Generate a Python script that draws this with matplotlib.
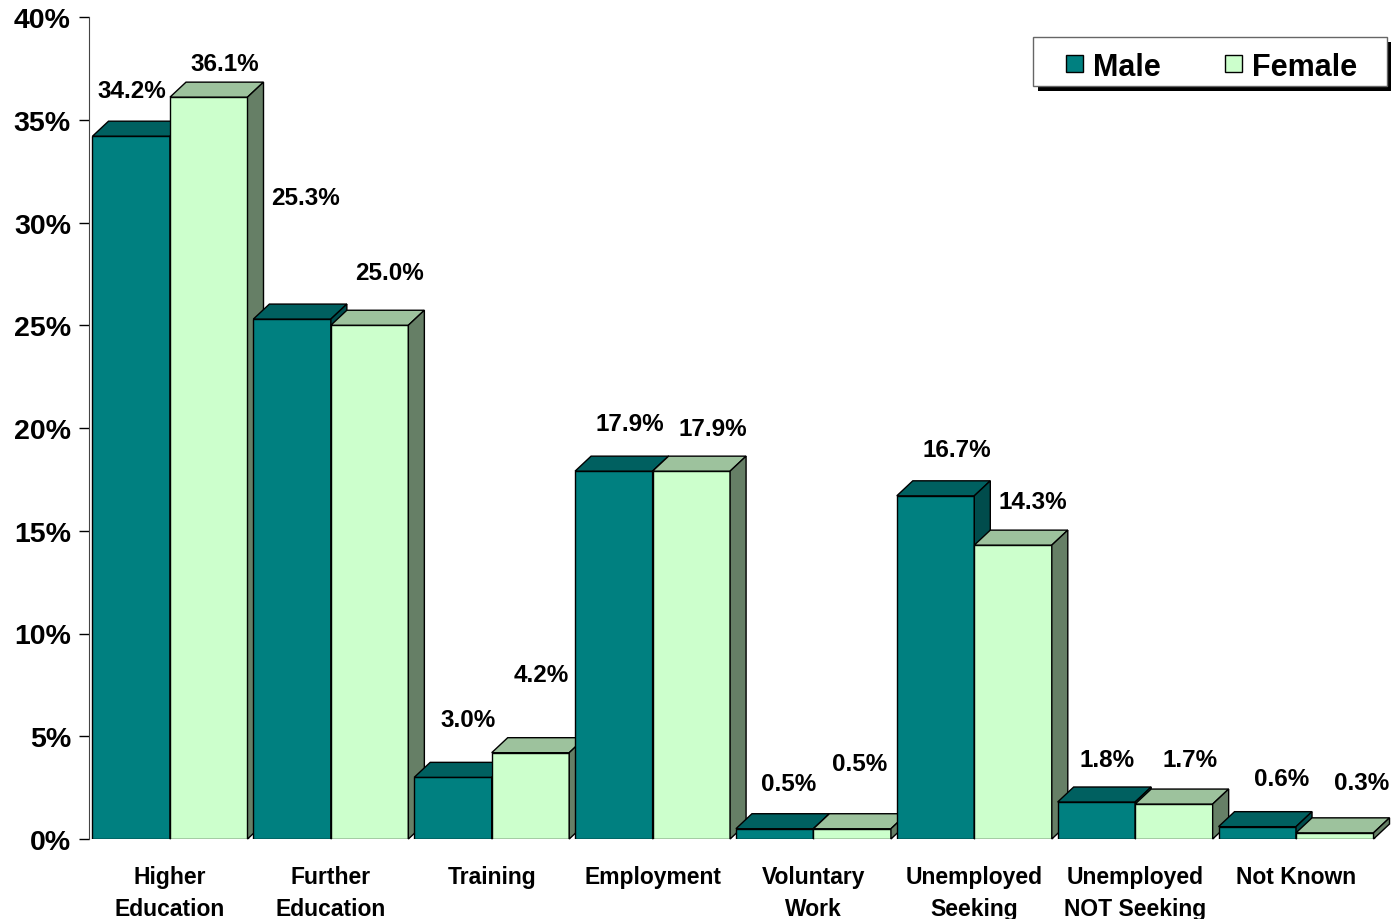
import matplotlib
matplotlib.use('Agg')
import matplotlib.pyplot as plt
from matplotlib.patches import Polygon, Rectangle
import numpy as np

categories = ['Higher\nEducation', 'Further\nEducation', 'Training', 'Employment',
              'Voluntary\nWork', 'Unemployed\nSeeking', 'Unemployed\nNOT Seeking', 'Not Known']
male = [34.2, 25.3, 3.0, 17.9, 0.5, 16.7, 1.8, 0.6]
female = [36.1, 25.0, 4.2, 17.9, 0.5, 14.3, 1.7, 0.3]
series = ['Male', 'Female']

# label nudges in pixels (dx, dy up) from front-face top centre, as in the original
male_off = [(1, 46), (13, 122), (15, 58), (16, 48), (14, 45), (21, 46), (11, 43), (24, 48)]
female_off = [(16, 34), (20, 53), (11, 78), (21, 43), (7, 65), (20, 44), (16, 45), (27, 50)]

plt.rcParams['font.family'] = ['Liberation Sans', 'DejaVu Sans']
plt.rcParams['font.weight'] = 'bold'

W, H = 1394, 920
fig = plt.figure(figsize=(W / 100, H / 100), dpi=100)
ax = fig.add_axes([89 / W, 80 / H, 1305 / W, 822 / H])

px_x = 160.86          # pixels per category
px_y = 822 / 40        # pixels per percent
w = 77.5 / px_x
dx = 16 / px_x
dy = 15 / px_y

colors = {
    'Male': ('#008080', '#006060', '#004c4c'),
    'Female': ('#ccffcc', '#9dc29d', '#667f66'),
}

x = np.arange(len(categories))
z = 2
for i in range(len(categories)):
    for name, vals, left in (('Male', male, x[i] - w), ('Female', female, x[i])):
        front, top, side = colors[name]
        v = vals[i]
        ax.bar(left, v, width=w, align='edge', color=front, edgecolor='black',
               linewidth=1, zorder=z)
        ax.add_patch(Polygon([(left, v), (left + dx, v + dy), (left + w + dx, v + dy), (left + w, v)],
                             closed=True, facecolor=top, edgecolor='black', linewidth=1,
                             zorder=z, clip_on=False))
        ax.add_patch(Polygon([(left + w, 0), (left + w + dx, dy), (left + w + dx, v + dy), (left + w, v)],
                             closed=True, facecolor=side, edgecolor='black', linewidth=1,
                             zorder=z, clip_on=False))
        z += 1

for i in range(len(categories)):
    for vals, offs, left in ((male, male_off, x[i] - w), (female, female_off, x[i])):
        ox, oy = offs[i]
        ax.annotate(f'{vals[i]:.1f}%', (left + w / 2, vals[i]),
                    xytext=(ox * 0.72, oy * 0.72), textcoords='offset points',
                    ha='center', va='center', fontsize=17.5, fontweight='bold', zorder=100)

ax.set_xlim((89 - 170) / px_x, (W - 170) / px_x)
ax.set_ylim(0, 40)
ax.set_yticks(range(0, 41, 5))
ax.set_yticklabels([f'{t}%' for t in range(0, 41, 5)], fontsize=20.5, fontweight='bold')
ax.set_xticks(x)
ax.set_xticklabels(categories, fontsize=16.5, fontweight='bold', linespacing=1.5)
ax.tick_params(axis='x', length=0, pad=18.5)
ax.tick_params(axis='y', length=7, width=1, direction='out', pad=6, colors='black')
for s in ('top', 'right', 'bottom'):
    ax.spines[s].set_visible(False)
ax.spines['left'].set_color('#444444')
ax.patch.set_visible(False)


# legend box drawn by hand to match the boxed legend with a hard drop shadow
def fx(px):
    return px / W


def fy(py):
    return 1 - py / H


fig.add_artist(Rectangle((fx(1038), fy(92)), fx(1391) - fx(1038), fy(43) - fy(92),
                         transform=fig.transFigure, facecolor='black', edgecolor='none'))
fig.add_artist(Rectangle((fx(1033), fy(87)), fx(1387) - fx(1033), fy(38) - fy(87),
                         transform=fig.transFigure, facecolor='white', edgecolor='#666666', linewidth=1))
for name, hx, tx in ((series[0], 1066, 1093), (series[1], 1225, 1252)):
    fig.add_artist(Rectangle((fx(hx), fy(73)), fx(hx + 17) - fx(hx), fy(56) - fy(73),
                             transform=fig.transFigure, facecolor=colors[name][0],
                             edgecolor='black', linewidth=1))
    fig.text(fx(tx), fy(65), name, fontsize=22, fontweight='bold', ha='left', va='center_baseline')

fig.savefig('out.png', dpi=100)
